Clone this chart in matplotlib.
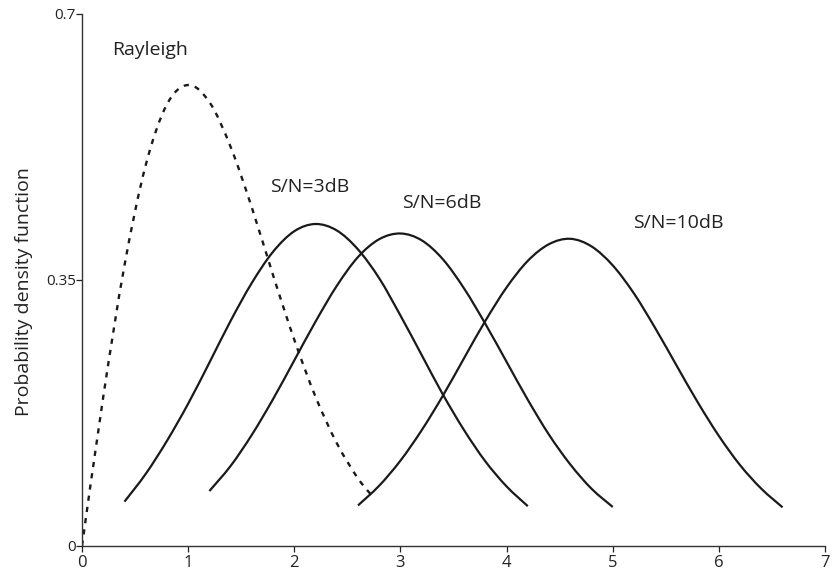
import matplotlib
matplotlib.use("Agg")
import matplotlib.pyplot as plt
from matplotlib.path import Path
from matplotlib.patches import PathPatch

plt.rcParams['font.family'] = ['Open Sans', 'DejaVu Sans']

# Rayleigh curve (dotted)
ray_x = [0.0, 0.2, 0.4, 0.6, 0.8, 1.0, 1.2, 1.4, 1.6, 1.8, 2.0, 2.2, 2.4, 2.6, 2.75]
ray_y = [0.0, 0.196, 0.369, 0.501, 0.581, 0.6065, 0.584, 0.525, 0.445, 0.356,
         0.271, 0.196, 0.135, 0.0885, 0.063]

# S/N = 3dB
snr3_x = [0.4, 0.6, 0.8, 1.0, 1.2, 1.4, 1.6, 1.8, 2.0, 2.2, 2.4, 2.6, 2.8, 3.0,
          3.2, 3.4, 3.6, 3.8, 4.0, 4.2]
snr3_y = [0.058, 0.0945, 0.138, 0.187, 0.241, 0.296, 0.346, 0.387, 0.414, 0.4235,
          0.415, 0.390, 0.352, 0.303, 0.251, 0.199, 0.152, 0.111, 0.078, 0.052]

# S/N = 6dB
snr6_x = [1.2, 1.4, 1.6, 1.8, 2.0, 2.2, 2.4, 2.6, 2.8, 3.0, 3.2, 3.4, 3.6, 3.8,
          4.0, 4.2, 4.4, 4.6, 4.8, 5.0]
snr6_y = [0.072, 0.105, 0.146, 0.193, 0.244, 0.295, 0.342, 0.380, 0.4035, 0.411,
          0.402, 0.377, 0.3385, 0.292, 0.242, 0.192, 0.146, 0.107, 0.075, 0.051]

# S/N = 10dB
snr10_x = [2.6, 2.8, 3.0, 3.2, 3.4, 3.6, 3.8, 4.0, 4.2, 4.4, 4.6, 4.8, 5.0, 5.2,
           5.4, 5.6, 5.8, 6.0, 6.2, 6.4, 6.6]
snr10_y = [0.053, 0.079, 0.112, 0.152, 0.1975, 0.247, 0.296, 0.340, 0.375, 0.397,
           0.404, 0.394, 0.369, 0.332, 0.2865, 0.2375, 0.189, 0.1445, 0.106,
           0.075, 0.0505]

labels = ["Rayleigh", "S/N=3dB", "S/N=6dB", "S/N=10dB"]
label_pos = [(0.28, 0.653), (1.77, 0.472), (3.015, 0.451), (5.19, 0.425)]

x_ticks = [0, 1, 2, 3, 4, 5, 6, 7]
y_ticks = [0, 0.35, 0.7]
y_ticklabels = ["0", "0.35", "0.7"]


def smooth_path(xs, ys):
    # smoothed line through the points (like a spreadsheet "smoothed line")
    pts = list(zip(xs, ys))
    verts = [pts[0]]
    codes = [Path.MOVETO]
    n = len(pts)
    for i in range(n - 1):
        p0 = pts[max(i - 1, 0)]
        p1 = pts[i]
        p2 = pts[i + 1]
        p3 = pts[min(i + 2, n - 1)]
        c1 = (p1[0] + (p2[0] - p0[0]) / 6, p1[1] + (p2[1] - p0[1]) / 6)
        c2 = (p2[0] - (p3[0] - p1[0]) / 6, p2[1] - (p3[1] - p1[1]) / 6)
        verts += [c1, c2, p2]
        codes += [Path.CURVE4] * 3
    return Path(verts, codes)


fig = plt.figure(figsize=(8.32, 5.75), dpi=100)
ax = fig.add_axes([0.0986, 0.051, 0.893, 0.9247])

ink = "#1a1a1a"
ax.add_patch(PathPatch(smooth_path(ray_x, ray_y), fill=False, edgecolor=ink,
                       lw=1.7, linestyle=(0, (2.2, 2.6)), capstyle="butt"))
for xs, ys in [(snr3_x, snr3_y), (snr6_x, snr6_y), (snr10_x, snr10_y)]:
    ax.add_patch(PathPatch(smooth_path(xs, ys), fill=False, edgecolor=ink,
                           lw=1.6))

for txt, (tx, ty) in zip(labels, label_pos):
    ax.text(tx, ty, txt, fontsize=14, color="#222222", ha="left", va="center")

ax.set_xlim(0, 7)
ax.set_ylim(0, 0.7)
ax.set_xticks(x_ticks)
ax.set_yticks(y_ticks)
ax.set_yticklabels(y_ticklabels)
ax.tick_params(axis="x", direction="out", length=4, width=0.9, pad=3,
               labelsize=12, colors="#222222")
ax.tick_params(axis="y", direction="out", length=4, width=0.9, pad=0.5,
               labelsize=11, colors="#222222")

for side in ["top", "right"]:
    ax.spines[side].set_visible(False)
for side in ["left", "bottom"]:
    ax.spines[side].set_linewidth(1.0)
    ax.spines[side].set_color("#333333")

ax.set_ylabel("Probability density function", fontsize=14, color="#222222")
ax.yaxis.set_label_coords(-0.066, 0.477)

fig.savefig("out.png", dpi=100)
